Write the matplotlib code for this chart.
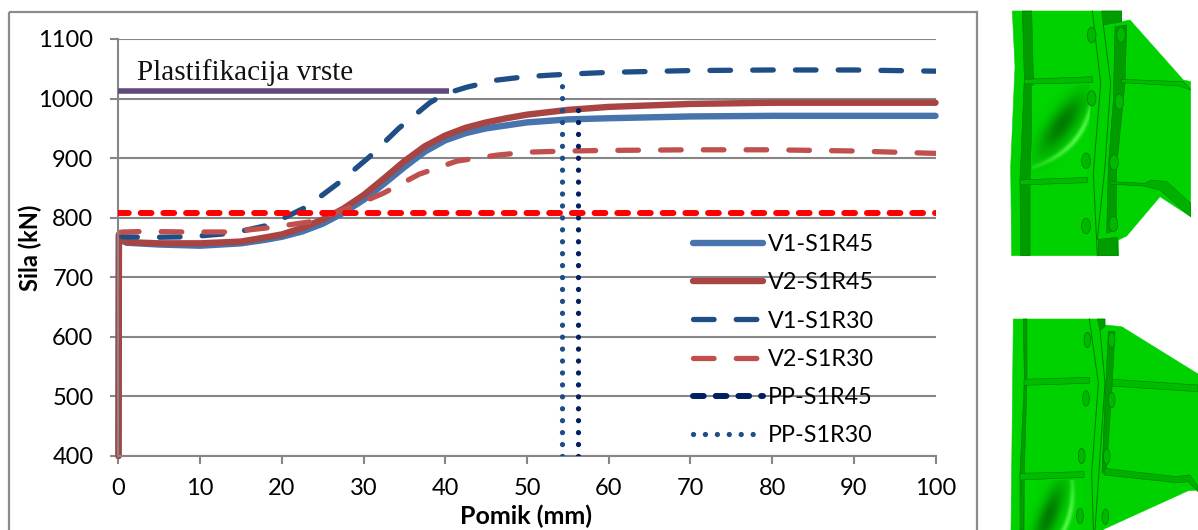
import numpy as np
import matplotlib
matplotlib.use('Agg')
import matplotlib.pyplot as plt
from matplotlib.patches import Polygon, Rectangle, Ellipse

# Values
x_v1_45 = [0, 0.05, 0.2, 1, 5, 10, 15, 18, 20, 22.5, 25, 27.5, 30, 32.5, 35, 37.5, 40, 42.5, 45, 47.5, 50, 55, 60, 70, 80, 100]
v1_45 = [400, 770, 763, 758, 755, 753, 757, 763, 768, 777, 790, 808, 830, 857, 885, 911, 930, 942, 950, 955, 960, 965, 967, 970, 971, 971]
x_v2_45 = [0, 0.05, 0.2, 1, 5, 10, 15, 18, 20, 22.5, 25, 27.5, 30, 32.5, 35, 37.5, 40, 42.5, 45, 47.5, 50, 55, 60, 70, 80, 100]
v2_45 = [400, 772, 765, 759, 757, 757, 760, 767, 772, 783, 797, 815, 838, 866, 895, 920, 938, 951, 960, 967, 973, 981, 986, 991, 993, 993]
x_v1_30 = [0, 0.5, 3.8, 8.7, 13.9, 18.5, 23, 26.9, 30.7, 34.3, 38.1, 40, 42.6, 46.3, 50, 55, 60, 70, 80, 90, 100]
v1_30 = [775, 768, 767, 768, 774, 788, 818, 858, 902, 950, 993, 1008, 1019, 1031, 1037, 1041, 1044, 1047, 1048, 1048, 1046]
x_v2_30 = [0, 0.5, 3.5, 8.4, 13.5, 18.3, 23.4, 28.1, 32.4, 36.8, 41.4, 46.3, 50, 55, 60, 70, 80, 90, 100]
v2_30 = [775, 776, 777, 776, 776, 783, 793, 816, 841, 873, 895, 905, 910, 912, 913, 914, 914, 912, 908]
red_limit = 808
plast_force = 1013
plast_end = 40.5
pp_s1r45 = 56.3
pp_s1r45_top = 985
pp_s1r30 = 54.3
pp_s1r30_top = 1037
xticks = list(range(0, 101, 10))
yticks = list(range(400, 1101, 100))

W, H = 1198, 530
fig = plt.figure(figsize=(W / 100, H / 100), dpi=100)
plt.rcParams['font.family'] = ['Lato', 'DejaVu Sans']

# Whole-figure pixel axes for chart frame and the two model pictures
bg = fig.add_axes([0, 0, 1, 1])
bg.set_xlim(0, W)
bg.set_ylim(H, 0)
bg.axis('off')
bg.add_patch(Rectangle((9, 12), 968, 540, fill=False, ec='#8c8c8c', lw=1.6))

GREEN = '#00d200'
DARK = '#009c00'
MID = '#00bc00'
EDGE = '#007a00'


def panel(ox, oy, polys, lines):
    # coordinates are from the 3x crops of the picture
    for pts, col in polys:
        pts = np.array(pts) / 3 + [ox, oy]
        bg.add_patch(Polygon(pts, closed=True, fc=col, ec=EDGE if col != GREEN else col, lw=0.4))
    for pts in lines:
        pts = np.array(pts) / 3 + [ox, oy]
        bg.plot(pts[:, 0], pts[:, 1], color=EDGE, lw=0.7)


def bolts(ox, oy, points, w):
    for bx, by in points:
        bg.add_patch(Ellipse((ox + bx / 3, oy + by / 3), w / 3, 46 / 3, fc='#00b800', ec=EDGE, lw=0.5, zorder=3))


def bulge(ox, oy, extent, cx, cy, ang, dark_w, bright_off, bow, clip):
    # soft shading of the buckled web
    x0, x1, y0, y1 = extent
    xx, yy = np.meshgrid(np.linspace(x0, x1, 160), np.linspace(y0, y1, 160))
    u = (xx - cx) * np.cos(ang) + (yy - cy) * np.sin(ang)
    v = -(xx - cx) * np.sin(ang) + (yy - cy) * np.cos(ang)
    dark = 0.85 * np.exp(-(u / 105) ** 2 - (v / dark_w) ** 2)
    bright = 0.8 * np.exp(-(u / 150) ** 2 - ((v - bright_off + bow * u ** 2) / 8) ** 2)
    img = np.zeros(xx.shape + (4,))
    base = np.array([0, 0.84, 0])
    dk = np.array([0, 0.42, 0])
    lt = np.array([0.4, 1, 0.35])
    a = dark[..., None]
    b = bright[..., None]
    rgb = base * (1 - a) + dk * a
    rgb = rgb * (1 - b) + lt * b
    img[..., :3] = rgb
    img[..., 3] = 1
    im = bg.imshow(img, extent=[ox + x0 / 3, ox + x1 / 3, oy + y1 / 3, oy + y0 / 3],
                   aspect='auto', zorder=2, interpolation='bilinear')
    p = Polygon(np.array(clip) / 3 + [ox, oy], closed=True, transform=bg.transData)
    im.set_clip_path(p)


top_polys = [
    ([(97, 33), (425, 33), (425, 65), (450, 60), (610, 240), (632, 245), (632, 650), (540, 590), (440, 708),
      (415, 720), (415, 767), (95, 767), (92, 500), (105, 200)], GREEN),
    ([(365, 33), (425, 33), (425, 65), (370, 75)], DARK),
    ([(355, 718), (412, 712), (415, 767), (355, 767)], DARK),
    ([(127, 33), (155, 33), (160, 230), (150, 535), (150, 767), (122, 767), (120, 540), (133, 235)], DARK),
    ([(133, 238), (338, 230), (338, 248), (133, 252)], MID),
    ([(120, 540), (322, 532), (322, 548), (120, 555)], MID),
    ([(405, 80), (440, 75), (435, 250), (410, 500), (408, 690), (380, 700), (385, 500), (400, 300)], DARK),
    ([(425, 238), (610, 245), (632, 270), (600, 258), (425, 248)], MID),
    ([(390, 545), (495, 550), (515, 540), (560, 545), (632, 610), (632, 650), (540, 570), (490, 558), (390, 552)], '#00b000'),
]
top_lines = [[(337, 33), (362, 250), (340, 520), (352, 767)], [(370, 75), (392, 250), (375, 500), (352, 718)]]
panel(980, 0, top_polys, top_lines)
bulge(980, 0, (155, 335, 255, 535), 245, 375, -0.95, 36, 60, 0.0023,
      [(155, 256), (335, 252), (320, 530), (148, 538)])
bolts(980, 0, [(423, 105), (335, 105), (335, 295), (418, 305), (402, 487), (318, 482), (400, 672), (318, 678)], 26)

low_polys = [
    ([(100, 57), (375, 57), (375, 75), (425, 80), (654, 222), (654, 570), (625, 572), (370, 688), (370, 690), (93, 690)], GREEN),
    ([(352, 57), (375, 57), (375, 80), (360, 90)], DARK),
    ([(130, 57), (141, 57), (141, 240), (133, 520), (132, 690), (120, 690), (120, 520), (133, 240)], DARK),
    ([(132, 238), (328, 232), (328, 250), (132, 256)], MID),
    ([(120, 520), (312, 515), (312, 532), (120, 540)], MID),
    ([(395, 238), (654, 255), (654, 275), (395, 258)], MID),
    ([(372, 505), (590, 530), (630, 525), (654, 560), (654, 575), (625, 545), (590, 548), (372, 525)], '#00b000'),
    ([(385, 95), (405, 95), (395, 280), (380, 500), (366, 520), (375, 300)], DARK),
]
low_lines = [[(328, 57), (355, 250), (335, 520), (340, 690)], [(360, 90), (375, 250), (345, 690)]]
panel(980, 300, low_polys, low_lines)
bulge(980, 300, (135, 310, 540, 690), 205, 650, -1.2, 30, 58, 0.002,
      [(135, 540), (308, 535), (305, 690), (133, 690)])
bolts(980, 300, [(395, 120), (322, 120), (318, 295), (395, 300), (380, 470), (305, 468), (376, 650), (300, 648)], 20)
bg.set_xlim(0, W)
bg.set_ylim(H, 0)

# Plot area
L, R, T, B = 118.5, 935.5, 39, 456
ax = fig.add_axes([L / W, 1 - B / H, (R - L) / W, (B - T) / H])
ax.patch.set_alpha(0)
ax.set_xlim(0, 100)
ax.set_ylim(400, 1100)
ax.set_xticks(xticks)
ax.set_yticks(yticks)
ax.grid(axis='y', color='#868686', lw=1.5)
ax.set_axisbelow(True)
for s in ['top', 'right']:
    ax.spines[s].set_visible(False)
for s in ['left', 'bottom']:
    ax.spines[s].set_color('#868686')
    ax.spines[s].set_linewidth(1.5)
ax.tick_params(axis='y', color='#868686', width=1.5, length=6, labelsize=17, pad=12)
ax.tick_params(axis='x', color='#868686', width=1.5, length=6, labelsize=17, pad=10)

ax.plot(x_v1_45, v1_45, color='#4774ac', lw=4.6, label='V1-S1R45', solid_capstyle='round', clip_on=False)
ax.plot(x_v2_45, v2_45, color='#a84442', lw=4.6, label='V2-S1R45', solid_capstyle='round', clip_on=False)
ax.plot(x_v1_30, v1_30, color='#1f4e86', lw=3.8, ls=(0, (3.9, 4.2)), label='V1-S1R30', dash_capstyle='round')
ax.plot(x_v2_30, v2_30, color='#c0504d', lw=3.8, ls=(0, (3.9, 4.2)), label='V2-S1R30', dash_capstyle='round')
ax.plot([pp_s1r45, pp_s1r45], [400, pp_s1r45_top], color='#002060', lw=3.8, ls=(0, (0.01, 2.25)),
        dash_capstyle='round', zorder=4)
ax.plot([pp_s1r30, pp_s1r30], [400, pp_s1r30_top], color='#1f4e86', lw=3.8, ls=(0, (0.01, 2.25)),
        dash_capstyle='round', zorder=4)
ax.plot([0, 100], [red_limit, red_limit], color='#ff0000', lw=4.3, ls=(0, (1.8, 2.0)),
        dash_capstyle='round', zorder=5)
ax.plot([0, plast_end], [plast_force, plast_force], color='#604a7b', lw=4, solid_capstyle='butt', zorder=5)

# legend-only handles
ax.plot([], [], color='#002060', lw=4.3, ls=(0, (1.8, 2.0)), dash_capstyle='round', label='PP-S1R45')
ax.plot([], [], color='#1f4e86', lw=3.8, ls=(0, (0.01, 2.25)), dash_capstyle='round', label='PP-S1R30')

ax.text(2.3, 1043, 'Plastifikacija vrste', family='Liberation Serif', fontsize=21, color='#111111',
        va='center', ha='left')
ax.set_xlabel('Pomik (mm)', fontsize=18, fontweight='bold', va='center')
ax.xaxis.set_label_coords(0.499, -0.144)
ax.set_ylabel('Sila (kN)', fontsize=17, fontweight='bold', va='center')
ax.yaxis.set_label_coords(-0.108, 0.499)

handles, labels = ax.get_legend_handles_labels()
ax.legend(handles, labels, loc='lower left', bbox_to_anchor=(0.683, -0.016), frameon=False, fontsize=16.8,
          handlelength=3.0, handletextpad=0.2, labelspacing=0.74, borderpad=0.2)

fig.savefig('out.png', dpi=100)
